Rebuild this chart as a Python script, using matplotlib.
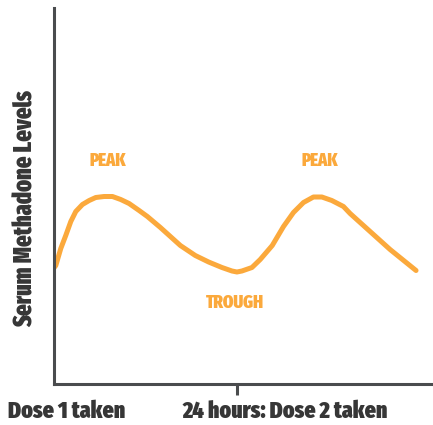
import matplotlib.pyplot as plt
from matplotlib import font_manager

# hours after first dose vs serum level (arbitrary units)
hours = [0.0, 0.30, 0.95, 1.60, 2.26, 2.91, 3.78, 4.66, 5.52, 6.61, 7.70,
         8.78, 9.87, 11.18, 12.26, 13.96, 16.57, 18.52, 20.26, 22.00, 23.31,
         23.96, 24.61, 25.92, 27.0, 28.57, 30.04, 31.34, 32.65, 33.95, 35.05,
         36.35, 37.87, 38.74, 41.35, 43.96, 47.35]
level = [115, 118, 135, 148, 162, 172, 179, 183, 186, 187, 187,
         184, 180, 173, 167, 156, 138, 128, 121.5, 116, 112.5,
         111.5, 112.5, 116, 124, 138, 157, 171, 181, 186.5, 186.5,
         183, 177, 170, 152, 134, 113]
tick_labels = ['Dose 1 taken', '24 hours: Dose 2 taken']
notes = ['PEAK', 'TROUGH', 'PEAK']

orange = '#FBA93C'
dark = '#4a4c4e'
ink = '#363636'
wanted = ['Fira Sans Extra Condensed', 'Fira Sans Condensed', 'Roboto Condensed',
          'Barlow Condensed', 'Liberation Sans Narrow', 'DejaVu Sans']
have = {f.name for f in font_manager.fontManager.ttflist}
font = [f for f in wanted if f in have]

fig = plt.figure(figsize=(4.33, 4.25), dpi=100)
ax = fig.add_axes([53.5/433, 41.5/425, 379.5/433, 376/425])

ax.plot(hours, level, color=orange, lw=3.6, solid_capstyle='round',
        solid_joinstyle='round')

note_pos = [(7.04, 217), (23.74, 76), (34.76, 217)]
for txt, (x, y) in zip(notes, note_pos):
    ax.text(x, y, txt, color=orange, fontsize=13, fontweight='black',
            family=font, ha='center', va='baseline')

ax.set_xlim(0, 380*24/184)
ax.set_ylim(0, 376)
for s in ['top', 'right']:
    ax.spines[s].set_visible(False)
for s in ['left', 'bottom']:
    ax.spines[s].set_color(dark)
    ax.spines[s].set_linewidth(2.2)
ax.set_yticks([])
ax.set_xticks([24])
ax.set_xticklabels([''])
ax.tick_params(axis='x', length=8, width=2.2, color=dark)

fig.text(66.5/433, 1 - 418/425, tick_labels[0], fontsize=17, fontweight='black',
         family=font, color=ink, ha='center', va='baseline')
fig.text(285.5/433, 1 - 418/425, tick_labels[1], fontsize=17, fontweight='black',
         family=font, color=ink, ha='center', va='baseline')
fig.text(33/433, 1 - 208.5/425, 'Serum Methadone Levels', fontsize=17.5,
         fontweight='black', family=font, color=ink, rotation=90,
         rotation_mode='anchor', ha='center', va='baseline')

fig.savefig('out.png', dpi=100)
